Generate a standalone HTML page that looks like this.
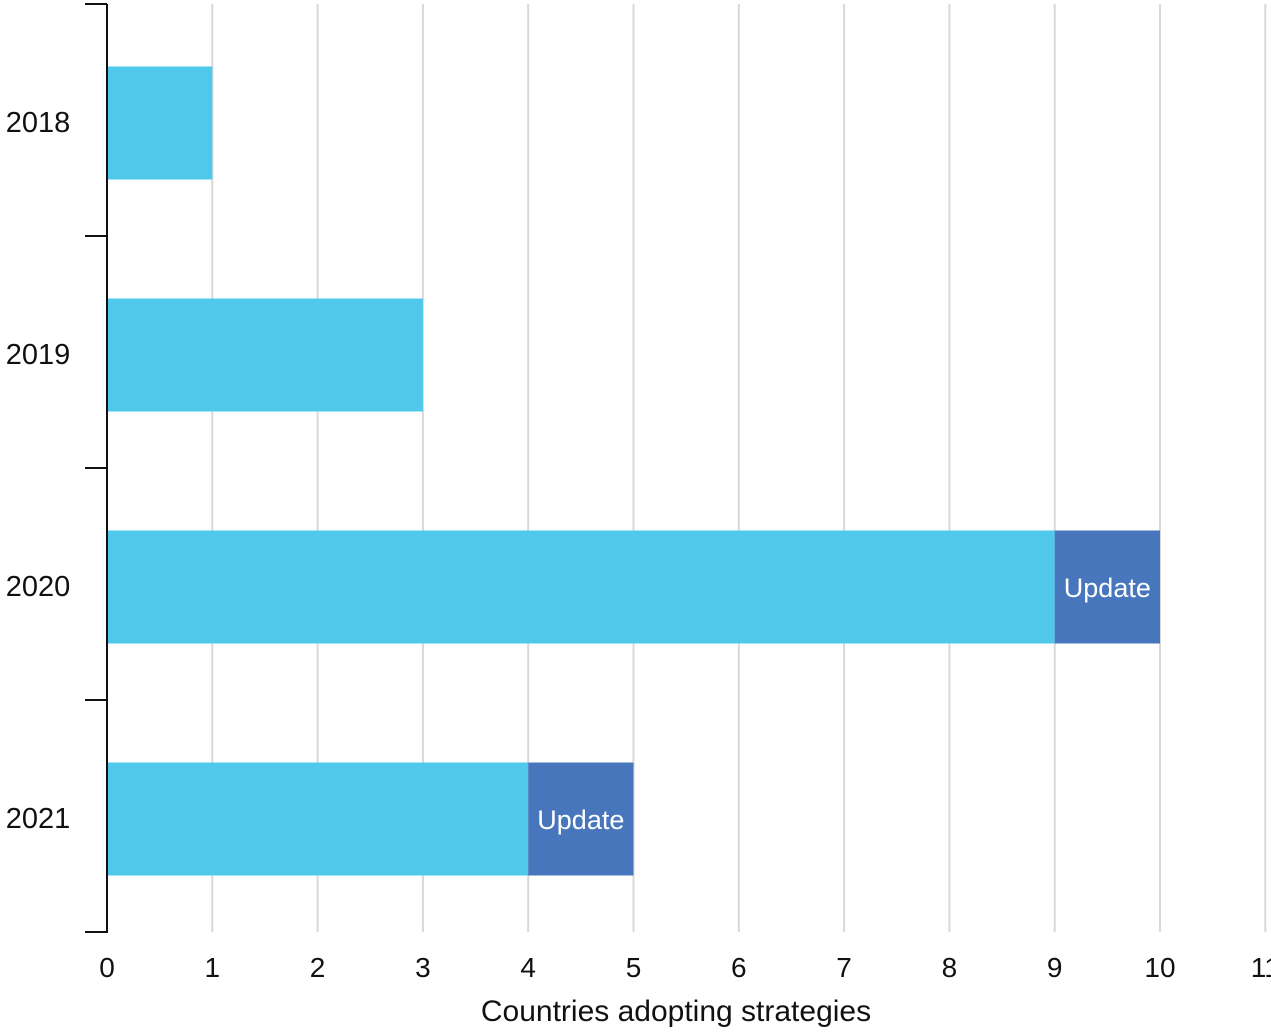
<!DOCTYPE html>
<html><head><meta charset="utf-8"><style>
html,body{margin:0;padding:0;background:#fff;}
svg text{font-family:"Liberation Sans",Arial,sans-serif;}
</style></head><body>
<svg width="1271" height="1029">
<g id="grid"></g>
<g id="bars"></g>
<g id="axes"></g>
<text x="676" y="1021" text-anchor="middle" font-size="30" fill="#111">Countries adopting strategies</text>
</svg>
<script>
const categories=["2018","2019","2020","2021"];
const newValues=[1,3,9,4];
const updateValues=[0,0,1,1];
const xTicks=[0,1,2,3,4,5,6,7,8,9,10,11];
const NS="http://www.w3.org/2000/svg";
const x0=107, xs=105.3, yTop=4, yBot=932;
const band=(yBot-yTop)/categories.length;
const X=v=>x0+v*xs;
const Y=i=>yTop+i*band;
function mk(t,a,p){const e=document.createElementNS(NS,t);for(const k in a)e.setAttribute(k,a[k]);p.appendChild(e);return e;}
const grid=document.getElementById('grid'),bars=document.getElementById('bars'),axes=document.getElementById('axes');
xTicks.forEach(v=>{
  if(v>0){const l=mk('line',{x1:X(v),x2:X(v),y1:yTop,y2:yBot,stroke:'#d9d9d9','stroke-width':2},grid);
  
  }
  const t=mk('text',{x:X(v),y:977,'text-anchor':'middle','font-size':28,fill:'#111'},axes);
  t.textContent=v;
  
  
});
const bh=113;
categories.forEach((c,i)=>{
  const yc=Y(i)+band/2, y=yc-bh/2+3;
  const r=mk('rect',{x:X(0),y:y,width:X(newValues[i])-X(0),height:bh,fill:'#4fc8ec'},bars);
  
  
  if(updateValues[i]>0){
    const a=newValues[i], b=a+updateValues[i];
    const u=mk('rect',{x:X(a),y:y,width:X(b)-X(a),height:bh,fill:'#4876bc'},bars);
    
    
    const t=mk('text',{x:(X(a)+X(b))/2,y:y+bh/2+10,'text-anchor':'middle','font-size':27,fill:'#fff'},bars);
    t.textContent='Update';
    
    
  }
  const lt=mk('text',{x:38,y:yc+12,'text-anchor':'middle','font-size':29,fill:'#111'},axes);
  lt.textContent=c;
  
  
});
const ax=mk('line',{x1:X(0),x2:X(0),y1:yTop,y2:yBot+1,stroke:'#111','stroke-width':2},axes);


for(let i=0;i<=categories.length;i++){
  const tk=mk('line',{x1:X(0)-22,x2:X(0),y1:Y(i),y2:Y(i),stroke:'#111','stroke-width':2},axes);
  
  
}
</script>
</body></html>
